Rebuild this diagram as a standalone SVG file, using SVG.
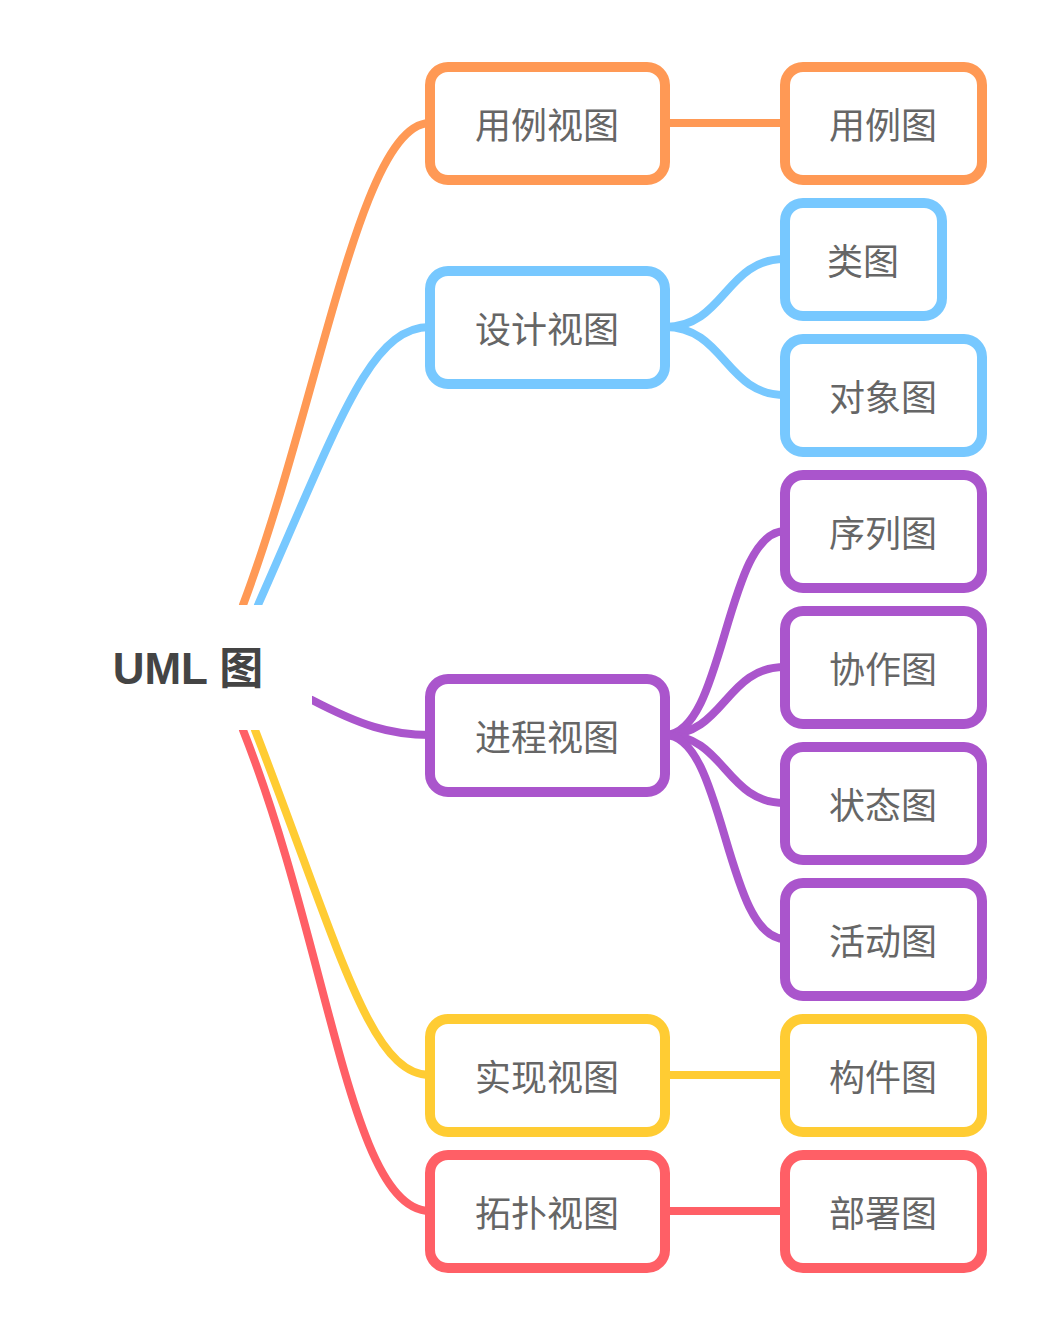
<svg xmlns="http://www.w3.org/2000/svg" width="1050" height="1336" viewBox="0 0 1050 1336">
<style>
.b{fill:#fff;stroke-width:10}
.t{font-family:"Noto Sans CJK SC","Noto Sans",sans-serif;font-size:36px;fill:#666;text-anchor:middle;dominant-baseline:central}
.l{fill:none;stroke-width:8;stroke-linecap:round}
.o{stroke:#FF9955}.u{stroke:#77C8FF}.p{stroke:#AA55CC}.y{stroke:#FFCC33}.r{stroke:#FF5F66}
</style>
<rect width="1050" height="1336" fill="#fff"/>
<g id="connectors">
<path class="l o" d="M243,605 C320,400 360,123 430,123"/>
<path class="l u" d="M258,605 C340,420 370,327 430,327"/>
<path class="l p" d="M312,700 C360,725 390,735 430,735"/>
<path class="l y" d="M255,730 C340,950 370,1075 430,1075"/>
<path class="l r" d="M243,730 C330,950 350,1211 430,1211"/>
<path class="l o" d="M665,123 L785,123"/>
<path class="l u" d="M665,327 C725,327 725,259 785,259"/>
<path class="l u" d="M665,327 C725,327 725,395 785,395"/>
<path class="l p" d="M665,735 C725,735 725,531 785,531"/>
<path class="l p" d="M665,735 C725,735 725,667 785,667"/>
<path class="l p" d="M665,735 C725,735 725,803 785,803"/>
<path class="l p" d="M665,735 C725,735 725,939 785,939"/>
<path class="l y" d="M665,1075 L785,1075"/>
<path class="l r" d="M665,1211 L785,1211"/>
</g>
<g id="root"><rect x="90" y="605" width="222" height="125" fill="#fff"/><text x="188" y="668" font-family="Liberation Sans,Noto Sans CJK SC,sans-serif" font-size="44" font-weight="bold" fill="#444" text-anchor="middle" dominant-baseline="central">UML 图</text></g>
<g id="n1"><rect class="b o" x="430" y="67" width="235" height="113" rx="18"/><text class="t" x="547" y="123">用例视图</text></g>
<g id="n2"><rect class="b u" x="430" y="271" width="235" height="113" rx="18"/><text class="t" x="547" y="327">设计视图</text></g>
<g id="n3"><rect class="b p" x="430" y="679" width="235" height="113" rx="18"/><text class="t" x="547" y="735">进程视图</text></g>
<g id="n4"><rect class="b y" x="430" y="1019" width="235" height="113" rx="18"/><text class="t" x="547" y="1075">实现视图</text></g>
<g id="n5"><rect class="b r" x="430" y="1155" width="235" height="113" rx="18"/><text class="t" x="547" y="1211">拓扑视图</text></g>
<g id="m1"><rect class="b o" x="785" y="67" width="197" height="113" rx="18"/><text class="t" x="883" y="123">用例图</text></g>
<g id="m2"><rect class="b u" x="785" y="203" width="157" height="113" rx="18"/><text class="t" x="863" y="259">类图</text></g>
<g id="m3"><rect class="b u" x="785" y="339" width="197" height="113" rx="18"/><text class="t" x="883" y="395">对象图</text></g>
<g id="m4"><rect class="b p" x="785" y="475" width="197" height="113" rx="18"/><text class="t" x="883" y="531">序列图</text></g>
<g id="m5"><rect class="b p" x="785" y="611" width="197" height="113" rx="18"/><text class="t" x="883" y="667">协作图</text></g>
<g id="m6"><rect class="b p" x="785" y="747" width="197" height="113" rx="18"/><text class="t" x="883" y="803">状态图</text></g>
<g id="m7"><rect class="b p" x="785" y="883" width="197" height="113" rx="18"/><text class="t" x="883" y="939">活动图</text></g>
<g id="m8"><rect class="b y" x="785" y="1019" width="197" height="113" rx="18"/><text class="t" x="883" y="1075">构件图</text></g>
<g id="m9"><rect class="b r" x="785" y="1155" width="197" height="113" rx="18"/><text class="t" x="883" y="1211">部署图</text></g>
</svg>
